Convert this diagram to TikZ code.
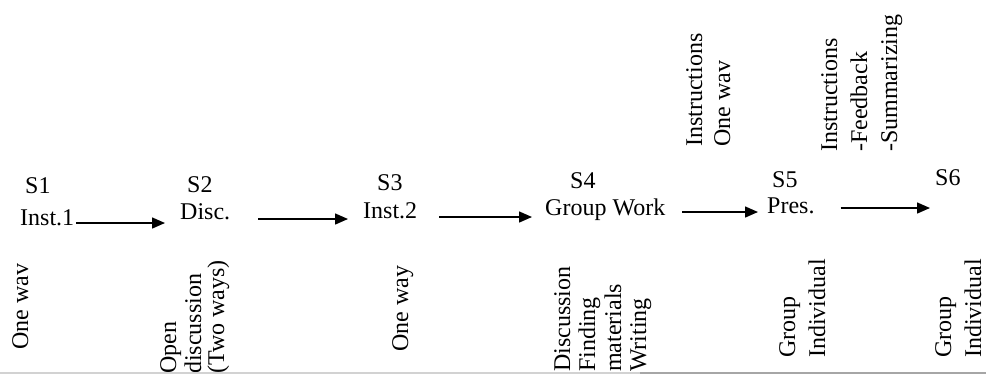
\documentclass[tikz,border=0pt]{standalone}
\usepackage{fontspec}
\setmainfont{Liberation Serif}
\usetikzlibrary{arrows.meta,calc}

\begin{document}
\begin{tikzpicture}[x=1pt,y=-1pt,
    every node/.style={font=\fontsize{24}{28}\selectfont, inner sep=0pt},
    stage/.style={anchor=base west},
    act/.style={anchor=base west},
    vlab/.style={rotate=90, anchor=base west},
    flow/.style={-{Triangle[length=13pt,width=11pt]}, line width=1.5pt}
  ]
  \useasboundingbox (0,0) rectangle (986,376);
  \node[stage] (s1) at (25,193) {S1};
  \node[stage] (s2) at (187,192) {S2};
  \node[stage] (s3) at (377,190) {S3};
  \node[stage] (s4) at (570,188) {S4};
  \node[stage] (s5) at (772,187) {S5};
  \node[stage] (s6) at (935,185) {S6};
  \node[act] (inst1) at (20,225) {Inst.1};
  \node[act] (disc) at (180,219) {Disc.};
  \node[act] (inst2) at (363,218) {Inst.2};
  \node[act] (gw) at (545,215) {Group Work};
  \node[act] (pres) at (767,213) {Pres.};
  \draw[flow,shorten <=2pt,shorten >=15pt] ([yshift=2pt]inst1.base east) -- ([yshift=2pt]inst1.base east -| disc.west);
  \draw[flow,shorten <=28pt,shorten >=15pt] (disc.base east) -- (disc.base east -| inst2.west);
  \draw[flow,shorten <=22pt,shorten >=13pt] ([yshift=1pt]inst2.base east) -- ([yshift=1pt]inst2.base east -| gw.west);
  \draw[flow,shorten <=17pt,shorten >=9pt] ([yshift=3pt]gw.base east) -- ([yshift=3pt]gw.base east -| pres.west);
  \draw[flow,shorten <=26pt,shorten >=5pt] ([yshift=5pt]pres.base east) -- ([yshift=5pt]pres.base east -| s6.west);
  \node[vlab] (b1) at (28,350) {One wav};
  \node[vlab] (b2a) at (176,374) {Open};
  \node[vlab] (b2b) at (201,374) {discussion};
  \node[vlab] (b2c) at (224,374) {(Two ways)};
  \node[vlab] (b3) at (408,352) {One way};
  \node[vlab] (b4a) at (570,372) {Discussion};
  \node[vlab] (b4b) at (595,372) {Finding};
  \node[vlab] (b4c) at (621,372) {materials};
  \node[vlab] (b4d) at (646,372) {Writing};
  \node[vlab] (b5a) at (795,358) {Group};
  \node[vlab] (b5b) at (825,358) {Individual};
  \node[vlab] (b6a) at (951,358) {Group};
  \node[vlab] (b6b) at (981,358) {Individual};
  \node[vlab] (t5a) at (702,147) {Instructions};
  \node[vlab] (t5b) at (730,147) {One wav};
  \node[vlab] (t6a) at (837,152) {Instructions};
  \node[vlab] (t6b) at (867,152) {-Feedback};
  \node[vlab] (t6c) at (897,152) {-Summarizing};
  \draw[gray!35,line width=1.5pt] (0,373) -- (640,373);
  \draw[gray!70,line width=1.5pt] (640,373) -- (986,373);
\end{tikzpicture}
\end{document}
